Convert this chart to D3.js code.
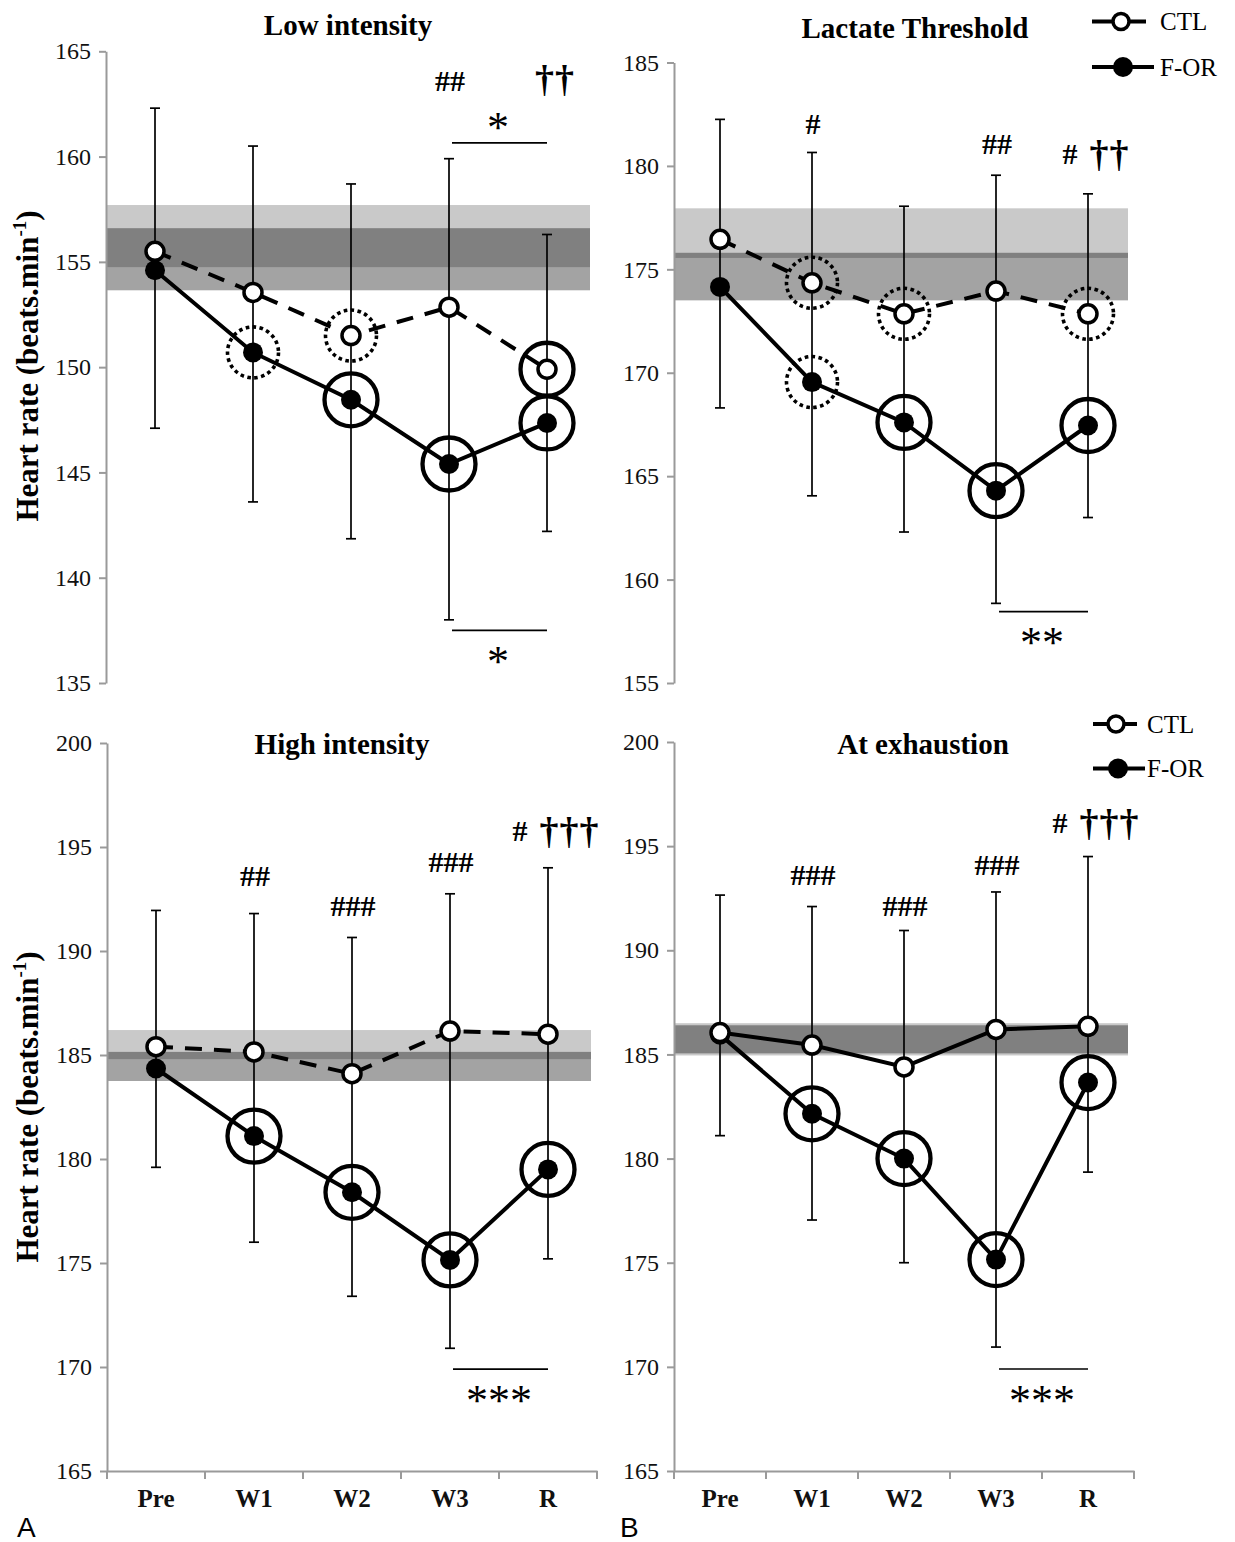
<!DOCTYPE html>
<html>
<head>
<meta charset="utf-8">
<script src="https://cdn.jsdelivr.net/npm/d3@7"></script>
<style>
  body { margin: 0; background: #fff; }
  svg { display: block; }
</style>
</head>
<body>
<svg id="chart" width="1235" height="1542"></svg>
<script>
// ---- data -------------------------------------------------------------
const timepoints = ['Pre', 'W1', 'W2', 'W3', 'R'];

// Low intensity
const lowCTL     = [155.5, 153.55, 151.5, 152.85, 149.9];
const lowCTLsd   = [6.8, 6.95, 7.2, 7.05, 6.4];
const lowFOR     = [154.6, 150.7, 148.45, 145.4, 147.35];
const lowFORsd   = [7.5, 7.1, 6.6, 7.4, 5.15];
const lowBandCTL = [154.75, 157.7];
const lowBandFOR = [153.65, 156.6];
const lowRingCTL = ['', '', 'dot', '', 'solid'];
const lowRingFOR = ['', 'dot', 'solid', 'solid', 'solid'];
const lowMarks   = [{ at: 'W3', text: '##', v: 163.6 }, { at: 'R', text: '††', v: 163.7 }];
const lowBrackets = [{ from: 'W3', to: 'R', v: 160.65, label: '*', side: 'up' },
                     { from: 'W3', to: 'R', v: 137.5, label: '*', side: 'down' }];

// Lactate threshold
const ltCTL      = [176.45, 174.35, 172.85, 173.95, 172.85];
const ltCTLsd    = [5.8, 6.3, 5.2, 5.6, 5.8];
const ltFOR      = [174.15, 169.55, 167.6, 164.3, 167.45];
const ltFORsd    = [5.85, 5.5, 5.3, 5.45, 4.45];
const ltBandCTL  = [175.55, 177.95];
const ltBandFOR  = [173.5, 175.8];
const ltRingCTL  = ['', 'dot', 'dot', '', 'dot'];
const ltRingFOR  = ['', 'dot', 'solid', 'solid', 'solid'];
const ltMarks    = [{ at: 'W1', text: '#', v: 182.05 }, { at: 'W3', text: '##', v: 181.05 },
                    { at: 'R', text: '# ††', v: 180.6 }];
const ltBrackets = [{ from: 'W3', to: 'R', v: 158.45, label: '**', side: 'down' }];

// High intensity
const hiCTL      = [185.4, 185.15, 184.1, 186.15, 186.0];
const hiCTLsd    = [6.55, 6.65, 6.55, 6.6, 8.0];
const hiFOR      = [184.35, 181.1, 178.4, 175.15, 179.5];
const hiFORsd    = [4.75, 5.1, 5.0, 4.25, 4.3];
const hiBandCTL  = [184.8, 186.2];
const hiBandFOR  = [183.75, 185.15];
const hiRingCTL  = ['', '', '', '', ''];
const hiRingFOR  = ['', 'solid', 'solid', 'solid', 'solid'];
const hiMarks    = [{ at: 'W1', text: '##', v: 193.6 }, { at: 'W2', text: '###', v: 192.15 },
                    { at: 'W3', text: '###', v: 194.3 }, { at: 'R', text: '# †††', v: 195.75 }];
const hiBrackets = [{ from: 'W3', to: 'R', v: 169.9, label: '***', side: 'down' }];

// At exhaustion
const exCTL      = [186.05, 185.45, 184.4, 186.2, 186.35];
const exCTLsd    = [6.6, 6.65, 6.55, 6.6, 8.15];
const exFOR      = [185.95, 182.15, 180.0, 175.15, 183.65];
const exFORsd    = [4.85, 5.1, 5.0, 4.2, 4.3];
const exBandCTL  = [184.95, 186.5];
const exBandFOR  = [185.05, 186.4];
const exRingCTL  = ['', '', '', '', ''];
const exRingFOR  = ['', 'solid', 'solid', 'solid', 'solid'];
const exMarks    = [{ at: 'W1', text: '###', v: 193.6 }, { at: 'W2', text: '###', v: 192.15 },
                    { at: 'W3', text: '###', v: 194.1 }, { at: 'R', text: '# †††', v: 196.1 }];
const exBrackets = [{ from: 'W3', to: 'R', v: 169.9, label: '***', side: 'down' }];

// ---- layout -----------------------------------------------------------
const SERIF = '"Liberation Serif", "Times New Roman", Times, serif';

const panels = [
  { title: 'Low intensity', tx: 348, ty: 25, x0: 106, x1: 596, yTop: 51.3, yBot: 683, domain: [135, 165],
    ctl: lowCTL, ctlSD: lowCTLsd, fo: lowFOR, foSD: lowFORsd, bandCTL: lowBandCTL, bandFOR: lowBandFOR,
    ringCTL: lowRingCTL, ringFOR: lowRingFOR, marks: lowMarks, brackets: lowBrackets,
    ctlDashed: true, xAxis: false, yLabel: 366, legend: null, letter: null },
  { title: 'Lactate Threshold', tx: 915, ty: 28, x0: 674, x1: 1134, yTop: 62.5, yBot: 683, domain: [155, 185],
    ctl: ltCTL, ctlSD: ltCTLsd, fo: ltFOR, foSD: ltFORsd, bandCTL: ltBandCTL, bandFOR: ltBandFOR,
    ringCTL: ltRingCTL, ringFOR: ltRingFOR, marks: ltMarks, brackets: ltBrackets,
    ctlDashed: true, xAxis: false, yLabel: null,
    legend: { y0: 21.5, y1: 67, lx0: 1092, lx1: 1150, c0: 1121, c1: 1123, tx: 1160 }, letter: null },
  { title: 'High intensity', tx: 342, ty: 744, x0: 107, x1: 597, yTop: 743, yBot: 1471, domain: [165, 200],
    ctl: hiCTL, ctlSD: hiCTLsd, fo: hiFOR, foSD: hiFORsd, bandCTL: hiBandCTL, bandFOR: hiBandFOR,
    ringCTL: hiRingCTL, ringFOR: hiRingFOR, marks: hiMarks, brackets: hiBrackets,
    ctlDashed: true, xAxis: true, yLabel: 1107, legend: null, letter: { t: 'A', x: 17 } },
  { title: 'At exhaustion', tx: 923, ty: 744, x0: 674, x1: 1134, yTop: 742, yBot: 1471, domain: [165, 200],
    ctl: exCTL, ctlSD: exCTLsd, fo: exFOR, foSD: exFORsd, bandCTL: exBandCTL, bandFOR: exBandFOR,
    ringCTL: exRingCTL, ringFOR: exRingFOR, marks: exMarks, brackets: exBrackets,
    ctlDashed: false, xAxis: true, yLabel: null,
    legend: { y0: 724, y1: 768.5, lx0: 1093, lx1: 1141, c0: 1116, c1: 1118, tx: 1147 }, letter: { t: 'B', x: 620 } }
];

const svg = d3.select('#chart');
svg.append('rect').attr('width', 1235).attr('height', 1542).attr('fill', '#fff');

const MARK_R = 9;

panels.forEach(p => {
  const g = svg.append('g');
  const x = d3.scaleBand().domain(timepoints).range([p.x0, p.x1]);
  const cx = d => x(d) + x.bandwidth() / 2;
  const y = d3.scaleLinear().domain(p.domain).range([p.yBot, p.yTop]);

  // reference bands (translucent so their overlap reads darker)
  const bandRight = p.x1 - 6;
  [[p.bandCTL, 0.21], [p.bandFOR, 0.36]].forEach(([b, a]) => {
    g.append('rect')
      .attr('x', p.x0 + 1).attr('width', bandRight - p.x0 - 1)
      .attr('y', y(b[1])).attr('height', y(b[0]) - y(b[1]))
      .attr('fill', `rgba(0,0,0,${a})`);
  });

  // y axis
  const ticks = d3.range(p.domain[0], p.domain[1] + 0.1, 5);
  const ay = g.append('g').attr('transform', `translate(${p.x0},0)`)
    .call(d3.axisLeft(y).tickValues(ticks).tickSize(7).tickSizeOuter(0).tickPadding(8).tickFormat(d3.format('d')));
  ay.attr('font-family', SERIF).attr('font-size', 24);
  ay.select('.domain').attr('stroke', '#9a9a9a').attr('stroke-width', 2);
  ay.selectAll('.tick line').attr('stroke', '#9a9a9a').attr('stroke-width', 2);
  ay.selectAll('.tick text').attr('fill', '#111');

  // x axis (bottom panels)
  if (p.xAxis) {
    const ax = g.append('g').attr('transform', `translate(0,${p.yBot})`)
      .call(d3.axisBottom(x).tickSize(0).tickSizeOuter(0).tickPadding(18));
    ax.attr('font-family', SERIF).attr('font-size', 25);
    ax.select('.domain').attr('stroke', '#9a9a9a').attr('stroke-width', 2);
    ax.selectAll('.tick text').attr('font-weight', 'bold').attr('fill', '#111').attr('dy', '0.71em');
    // boundary ticks between the time points
    const edges = timepoints.map(d => x(d)).concat([x(timepoints[timepoints.length - 1]) + x.step()]);
    ax.selectAll('line.edge').data(edges).join('line').attr('class', 'edge')
      .attr('x1', d => d).attr('x2', d => d).attr('y1', 0).attr('y2', 8)
      .attr('stroke', '#9a9a9a').attr('stroke-width', 2);
  }

  // error bars: CTL upward, F-OR downward
  timepoints.forEach((t, i) => {
    const top = y(p.ctl[i] + p.ctlSD[i]);
    const bot = y(p.fo[i] - p.foSD[i]);
    const xc = cx(t);
    g.append('line').attr('x1', xc).attr('x2', xc).attr('y1', top).attr('y2', bot)
      .attr('stroke', '#000').attr('stroke-width', 1.7);
    [top, bot].forEach(yy => g.append('line').attr('x1', xc - 5).attr('x2', xc + 5)
      .attr('y1', yy).attr('y2', yy).attr('stroke', '#000').attr('stroke-width', 1.7));
  });

  // series lines
  const line = d3.line().x((d, i) => cx(timepoints[i])).y(d => y(d));
  g.append('path').datum(p.fo).attr('d', line)
    .attr('fill', 'none').attr('stroke', '#000').attr('stroke-width', 4);
  g.append('path').datum(p.ctl).attr('d', line)
    .attr('fill', 'none').attr('stroke', '#000').attr('stroke-width', 4)
    .attr('stroke-dasharray', p.ctlDashed ? '17,12' : null);

  // significance rings
  const ring = (vals, kinds) => timepoints.forEach((t, i) => {
    if (!kinds[i]) return;
    g.append('circle').attr('cx', cx(t)).attr('cy', y(vals[i]))
      .attr('r', kinds[i] === 'dot' ? 25.5 : 26.5)
      .attr('fill', 'none').attr('stroke', '#000')
      .attr('stroke-width', kinds[i] === 'dot' ? 3.6 : 4.3)
      .attr('stroke-dasharray', kinds[i] === 'dot' ? '3.6,3.4' : null);
  });
  ring(p.ctl, p.ringCTL);
  ring(p.fo, p.ringFOR);

  // markers
  g.selectAll('circle.for').data(p.fo).join('circle').attr('class', 'for')
    .attr('cx', (d, i) => cx(timepoints[i])).attr('cy', d => y(d)).attr('r', MARK_R + 1)
    .attr('fill', '#000');
  g.selectAll('circle.ctl').data(p.ctl).join('circle').attr('class', 'ctl')
    .attr('cx', (d, i) => cx(timepoints[i])).attr('cy', d => y(d)).attr('r', MARK_R)
    .attr('fill', '#fff').attr('stroke', '#000').attr('stroke-width', 3.5);

  // significance symbols above the time points
  p.marks.forEach(m => {
    const hasDagger = m.text.includes('†');
    const txt = g.append('text').attr('x', cx(m.at) + (hasDagger ? 8 : 1)).attr('y', y(m.v) + 10)
      .attr('text-anchor', 'middle').attr('font-family', SERIF).attr('font-weight', 'bold')
      .attr('fill', '#000');
    const parts = m.text.split(' ');
    parts.forEach((part, k) => {
      const isDag = part.includes('†');
      txt.append('tspan').text(part)
        .attr('font-size', isDag ? 38 : 30)
        .attr('dx', k > 0 ? 12 : null)
        .attr('letter-spacing', isDag ? 1 : 0)
        .attr('dy', isDag ? 3 : 0);
    });
  });

  // comparison brackets
  p.brackets.forEach(b => {
    const xa = cx(b.from), xb = cx(b.to);
    g.append('line').attr('x1', xa + 3).attr('x2', xb).attr('y1', y(b.v)).attr('y2', y(b.v))
      .attr('stroke', '#000').attr('stroke-width', 1.6);
    const fs = 44;
    const ys = b.side === 'up' ? y(b.v) - 22 : y(b.v) + 25;
    g.append('text').attr('x', (xa + xb) / 2).attr('y', ys + 0.47 * fs)
      .attr('text-anchor', 'middle').attr('font-family', SERIF).attr('font-size', fs)
      .attr('letter-spacing', 0).attr('fill', '#000').text(b.label);
  });

  // title
  g.append('text').attr('x', p.tx).attr('y', p.ty).attr('dy', '0.35em')
    .attr('text-anchor', 'middle').attr('font-family', SERIF).attr('font-size', 29)
    .attr('font-weight', 'bold').attr('fill', '#000').text(p.title);

  // y axis title
  if (p.yLabel) {
    const t = g.append('text').attr('transform', `translate(38,${p.yLabel}) rotate(-90)`)
      .attr('text-anchor', 'middle').attr('font-family', SERIF).attr('font-size', 31)
      .attr('font-weight', 'bold').attr('fill', '#000');
    t.append('tspan').text('Heart rate (beats.min');
    t.append('tspan').text('-1').attr('font-size', 19).attr('dy', -12);
    t.append('tspan').text(')').attr('dy', 12);
  }

  // legend
  if (p.legend) {
    const L = p.legend;
    [[L.y0, 'CTL', false, L.c0], [L.y1, 'F-OR', true, L.c1]].forEach(([yy, name, filled, c]) => {
      g.append('line').attr('x1', L.lx0).attr('x2', name === 'CTL' ? L.lx1 - 4 : L.lx1 + 4)
        .attr('y1', yy).attr('y2', yy).attr('stroke', '#000').attr('stroke-width', 4);
      g.append('circle').attr('cx', c).attr('cy', yy).attr('r', filled ? MARK_R + 1 : MARK_R - 1)
        .attr('fill', filled ? '#000' : '#fff').attr('stroke', '#000').attr('stroke-width', filled ? 0 : 3.5);
      g.append('text').attr('x', L.tx).attr('y', yy).attr('dy', '0.35em')
        .attr('font-family', SERIF).attr('font-size', 25).attr('fill', '#000').text(name);
    });
  }

  // panel letter
  if (p.letter) {
    g.append('text').attr('x', p.letter.x).attr('y', 1537)
      .attr('font-family', '"Liberation Sans", Arial, sans-serif').attr('font-size', 28)
      .attr('fill', '#000').text(p.letter.t);
  }
});
</script>
</body>
</html>
